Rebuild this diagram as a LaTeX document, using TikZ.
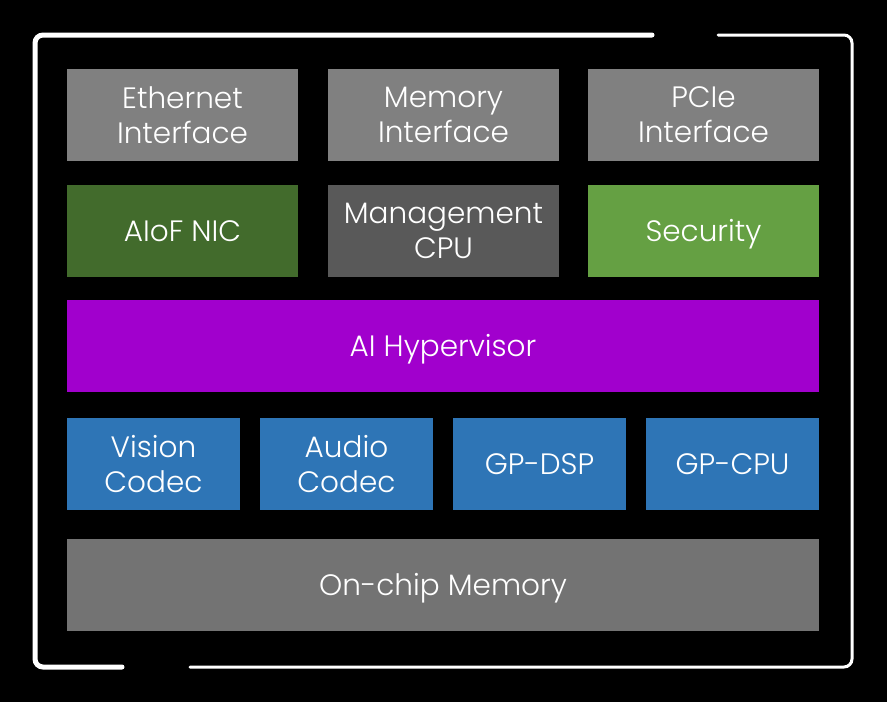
\documentclass[tikz,border=0pt]{standalone}
\usepackage{fontspec}
\setmainfont{Poppins}[UprightFont=* Light]
\definecolor{ifgray}{HTML}{808080}
\definecolor{mgmtgray}{HTML}{595959}
\definecolor{nicgreen}{HTML}{426B2C}
\definecolor{secgreen}{HTML}{65A043}
\definecolor{hyppurple}{HTML}{A100CD}
\definecolor{corblue}{HTML}{2E75B6}
\definecolor{memgray}{HTML}{737373}
\tikzset{
  blk/.style={draw=none, text=white, inner sep=0pt,
    minimum height=92pt, font=\fontsize{29.5}{35}\selectfont},
  oneline/.style={text height=20.6pt, text depth=0pt},
  twoline/.style={align=center},
  third/.style={blk, minimum width=231pt},
  quarter/.style={blk, minimum width=173pt},
  full/.style={blk, minimum width=752pt},
}
\begin{document}
\begin{tikzpicture}[x=1pt, y=-1pt]
\fill[black] (0,0) rectangle (887,702);
\useasboundingbox (0,0) rectangle (887,702);
% frame with two gaps
\draw[white, line width=5pt, line cap=round, rounded corners=8pt] (652,35) -- (35,35) -- (35,667) -- (122,667);
\draw[white, line width=3pt, line cap=round, rounded corners=8pt] (190,667) -- (852,667) -- (852,35) -- (718,35);
% interfaces
\node[third, twoline, fill=ifgray] (eth) at (182.5,115) {Ethernet\\Interface};
\node[third, twoline, fill=ifgray] (mem) at (443.5,115) {Memory\\Interface};
\node[third, twoline, fill=ifgray] (pcie) at (703.5,115) {PCIe\\Interface};
% control
\node[third, oneline, fill=nicgreen] (nic) at (182.5,231) {AIoF NIC};
\node[third, twoline, fill=mgmtgray] (mgmt) at (443.5,231) {Management\\CPU};
\node[third, oneline, fill=secgreen] (sec) at (703.5,231) {Security};
\node[full, oneline, fill=hyppurple] (hyp) at (443,346) {AI Hypervisor};
% cores
\node[quarter, twoline, fill=corblue] (vis) at (153.5,464) {Vision\\Codec};
\node[quarter, twoline, fill=corblue] (aud) at (346.5,464) {Audio\\Codec};
\node[quarter, oneline, fill=corblue] (dsp) at (539.5,464) {GP-DSP};
\node[quarter, oneline, fill=corblue] (cpu) at (732.5,464) {GP-CPU};
\node[full, oneline, fill=memgray] (ocm) at (443,585) {On-chip Memory};
\end{tikzpicture}
\end{document}
